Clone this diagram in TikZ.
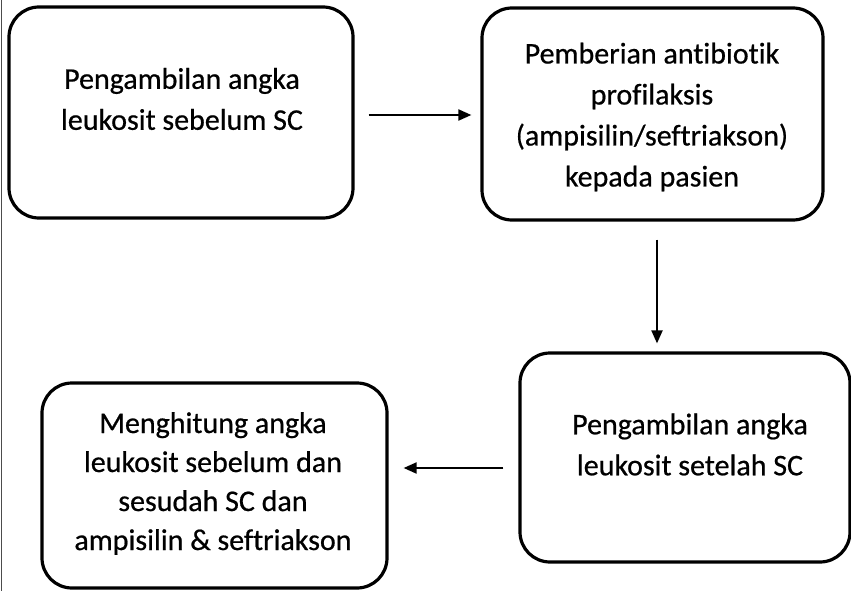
\documentclass[tikz,border=0pt]{standalone}
\usepackage{fontspec}
\setmainfont{Carlito}[Ligatures={NoCommon},FakeBold=0.6]
\usetikzlibrary{arrows.meta}
\begin{document}
\begin{tikzpicture}[x=1pt,y=-1pt,
  boxnode/.style={draw=black,line width=3.2pt,rounded corners=30pt,inner sep=0pt,fill=none},
  txt/.style={align=center,font=\fontsize{30}{41}\selectfont,inner sep=0pt},
  arr/.style={line width=2pt,-{Triangle[length=13pt,width=11pt]}}]
\useasboundingbox (0,0) rectangle (851,591);
\fill[white] (0,0) rectangle (851,591);
\draw[gray!60!black,line width=1.5pt] (1.5,0) -- (1.5,591);
% boxes
\node[boxnode,minimum width=344pt,minimum height=211pt] (b1) at (181,112.5) {};
\node[boxnode,minimum width=341pt,minimum height=212pt] (b2) at (652.5,114) {};
\node[boxnode,minimum width=330pt,minimum height=209pt] (b3) at (685,457.5) {};
\node[boxnode,minimum width=345pt,minimum height=205pt] (b4) at (214.5,485.5) {};
% texts
\node[txt] (t1) at (182,99) {Pengambilan angka\\leukosit sebelum SC};
\node[txt] (t2) at (652,117) {Pemberian antibiotik\\profilaksis\\(ampisilin/seftriakson)\\kepada pasien};
\node[txt] (t3) at (690,444.5) {Pengambilan angka\\leukosit setelah SC};
\node[txt,font=\fontsize{30}{39}\selectfont] (t4) at (213,483.5) {Menghitung angka\\leukosit sebelum dan\\sesudah SC dan\\ampisilin \& seftriakson};
% arrows
\draw[arr] ([xshift=14pt,yshift=-2.5pt]b1.east) -- ([xshift=-9pt,yshift=-1pt]b2.west);
\draw[arr] ([xshift=4.5pt,yshift=-18pt]b2.south) -- ([xshift=-28pt,yshift=8pt]b3.north);
\draw[arr] ([xshift=-15pt,yshift=-10.5pt]b3.west) -- ([xshift=15pt,yshift=17.5pt]b4.east);
\end{tikzpicture}
\end{document}
